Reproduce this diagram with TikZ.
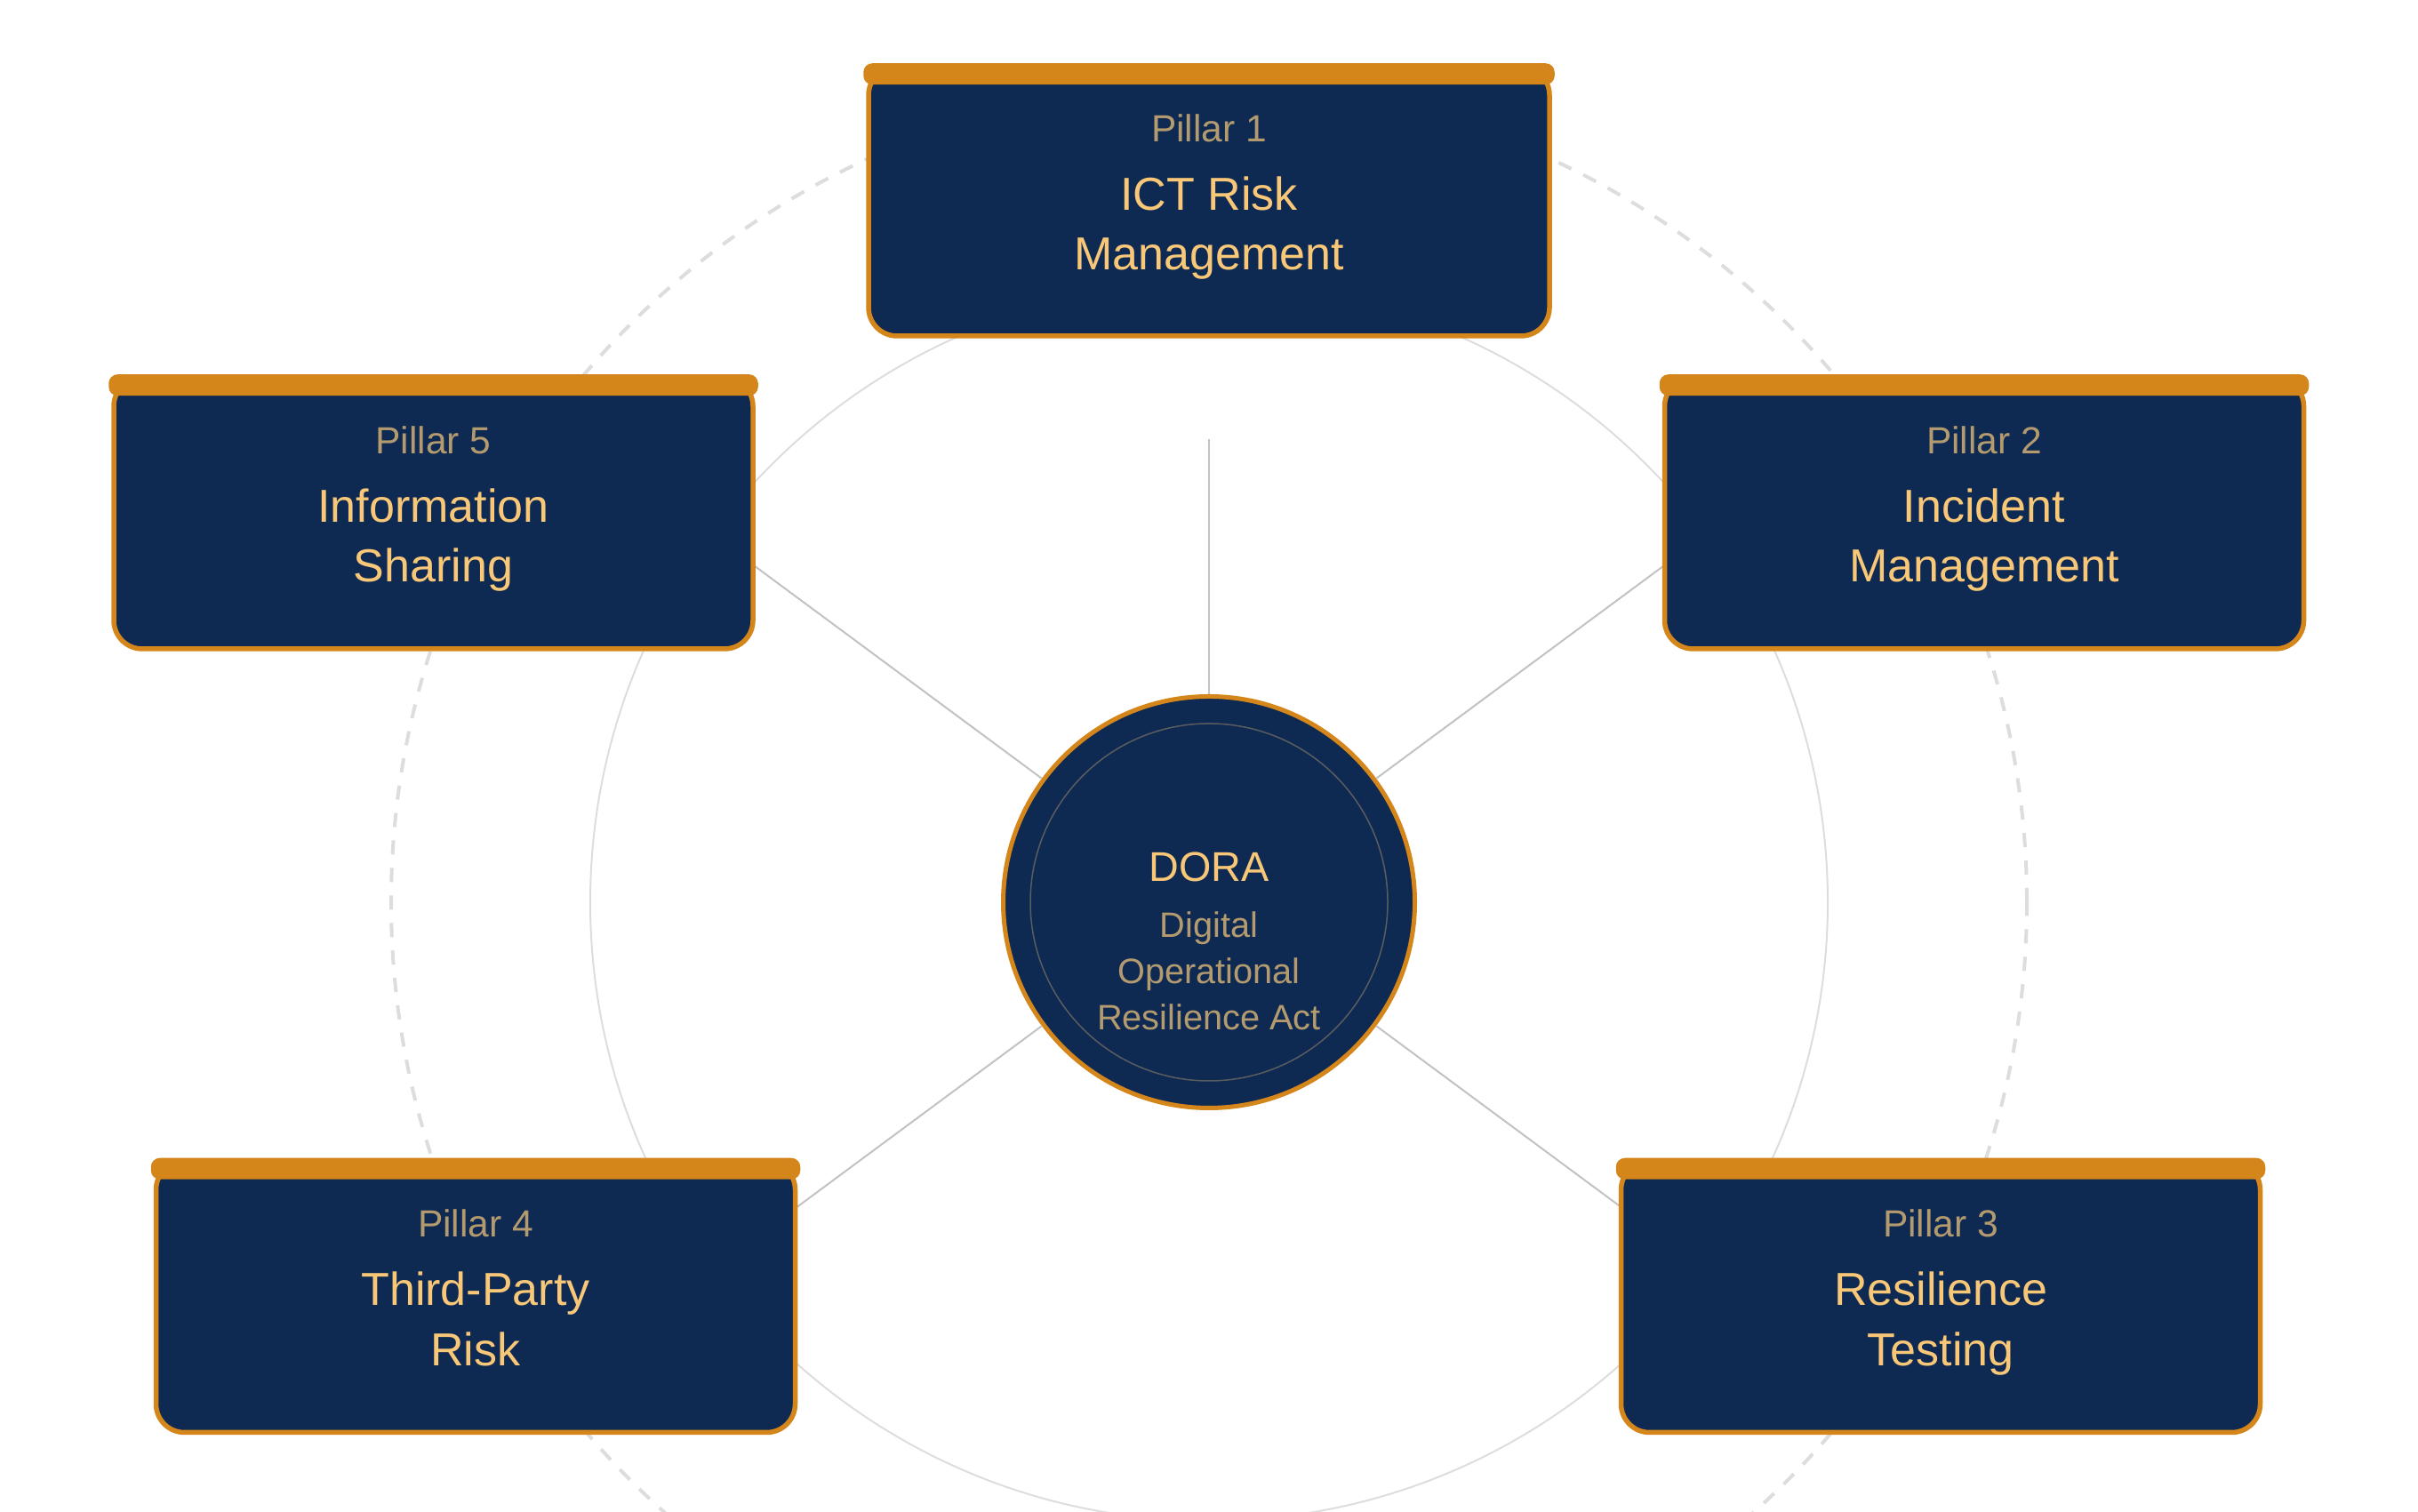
\documentclass[tikz,border=0pt]{standalone}
\usepackage{fontspec}
\setmainfont{Liberation Sans}
\definecolor{doranavy}{HTML}{0F2A52}
\definecolor{doraorange}{HTML}{D4861A}
\definecolor{doragold}{HTML}{F8C878}
\definecolor{doratan}{HTML}{B39B6F}
\definecolor{ringgray}{HTML}{DDDDDD}
\definecolor{spokegray}{HTML}{C2C2C2}
\newcommand{\plabel}[1]{{\fontsize{12.1}{14}\selectfont\color{doratan}#1}}
\newcommand{\pillartext}[3]{\plabel{Pillar #1}\\[2.6pt]#2\\#3\rule[-5.9pt]{0pt}{0pt}}

\begin{document}
\begin{tikzpicture}[
    pillar/.style={rounded corners=0.32cm, draw=doraorange, line width=0.055cm, fill=doranavy,
      align=center, text=doragold, font=\fontsize{14.8}{19.3}\selectfont,
      minimum width=7.19cm, minimum height=3.05cm, inner sep=0pt},
    topbar/.style={fill=doraorange, rounded corners=0.1cm},
    spoke/.style={draw=spokegray, line width=0.02cm},
    ring/.style={draw=ringgray, line width=0.02cm}
  ]
    \useasboundingbox (0,0) rectangle (27.2,17.01);
    \clip (0,0) rectangle (27.2,17.01);
    \coordinate (mid) at (13.6,6.86);
    % cercles de fond
    \draw[ring] (mid) circle (6.96);
    \draw[ring, line width=0.04cm, dash pattern=on 0.16cm off 0.15cm] (mid) circle (9.2);
    % noyau DORA
    \node[circle, draw=doraorange, line width=0.05cm, fill=doranavy, minimum size=4.63cm, inner sep=0pt] (dora) at (mid) {};
    \draw[doratan!45!doranavy, line width=0.015cm] (dora.center) circle (2.01);
    \node[align=center, text=doratan, font=\fontsize{11.3}{14.8}\selectfont] (doratxt) at ([yshift=-0.435cm]dora.center)
      {{\fontsize{13.3}{16}\selectfont\color{doragold}DORA}\\[3.1pt]Digital\\Operational\\Resilience Act};
    % rayons
    \coordinate (s1) at ([yshift=5.21cm]dora.center);
    \coordinate (s2) at ([shift={(36.5:6.45)}]dora.center);
    \coordinate (s3) at ([shift={(-36.5:5.85)}]dora.center);
    \coordinate (s4) at ([shift={(216.5:5.85)}]dora.center);
    \coordinate (s5) at ([shift={(143.5:6.45)}]dora.center);
    \foreach \s in {s1,s2,s3,s4,s5} \draw[spoke] (dora) -- (\s);
    % piliers
    \node[pillar, minimum width=7.66cm, minimum height=3.03cm] (p1) at (13.6,14.745)
      {\pillartext{1}{ICT Risk}{Management}};
    \node[pillar] (p2) at (22.32,11.235) {\pillartext{2}{Incident}{Management}};
    \node[pillar] (p3) at (21.83,2.42) {\pillartext{3}{Resilience}{Testing}};
    \node[pillar] (p4) at (5.35,2.42) {\pillartext{4}{Third-Party}{Risk}};
    \node[pillar] (p5) at (4.875,11.235) {\pillartext{5}{Information}{Sharing}};
    \foreach \p in {p1,p2,p3,p4,p5}
      \fill[topbar] ([xshift=-0.03cm,yshift=0.01cm]\p.north west) rectangle ([xshift=0.03cm,yshift=-0.23cm]\p.north east);
  \end{tikzpicture}
\end{document}
